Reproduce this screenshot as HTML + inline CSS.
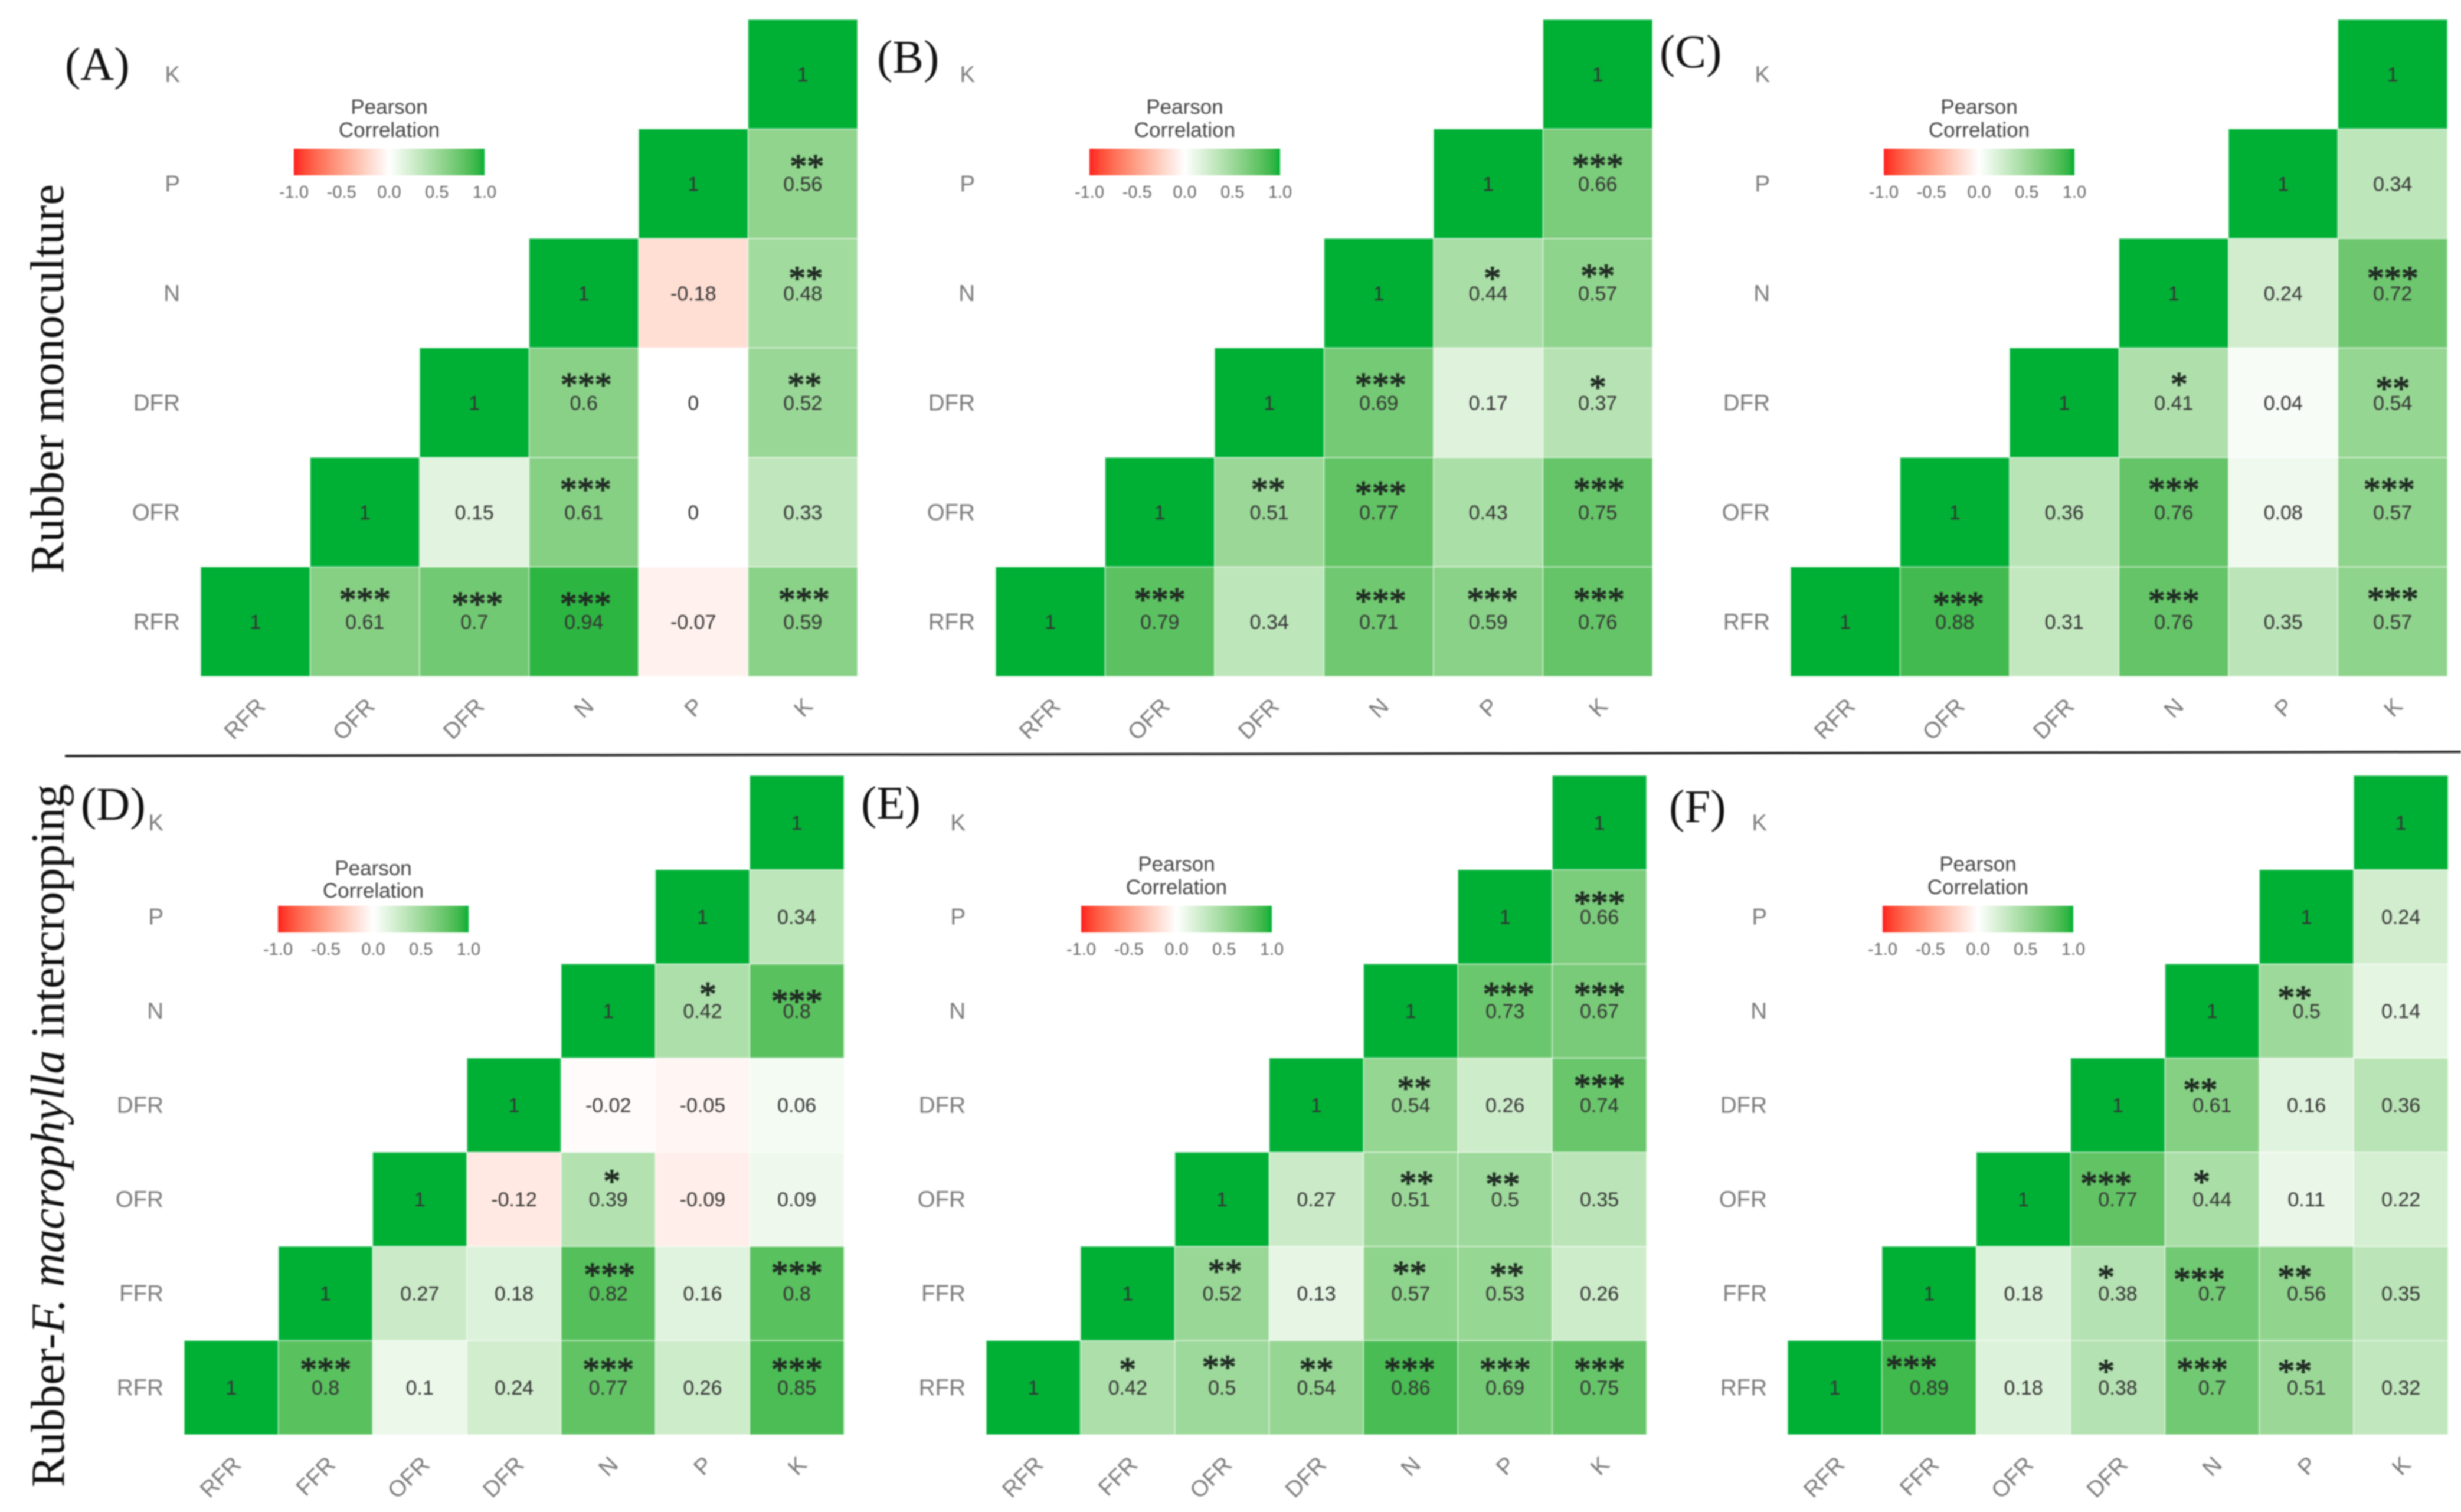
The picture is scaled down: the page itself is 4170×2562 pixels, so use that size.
<!DOCTYPE html>
<html lang="en">
<head>
<meta charset="utf-8">
<title>Pearson correlation heatmaps</title>
<style>
  html, body { margin: 0; padding: 0; background: #fff; }
  body { width: 4170px; height: 2562px; overflow: hidden; }
  svg { display: block; filter: blur(1.2px); }
  text { font-family: "Liberation Sans", sans-serif; }
  .serif { font-family: "Liberation Serif", serif; }
</style>
</head>
<body>
<svg id="chart" xmlns="http://www.w3.org/2000/svg" width="4170" height="2562" viewBox="0 0 4170 2562">
  <rect x="0" y="0" width="4170" height="2562" fill="#ffffff"/>
  <defs id="defs"></defs>
  <line x1="110" y1="1281" x2="4170" y2="1274" stroke="#222222" stroke-width="4"/>
  <text class="serif" transform="translate(107 972) rotate(-90)" font-size="80" fill="#111111">Rubber monoculture</text>
  <text class="serif" transform="translate(108 2520) rotate(-90)" font-size="80" fill="#111111">Rubber-<tspan font-style="italic">F. macrophylla</tspan> intercropping</text>
</svg>
<script>
// ---- Categories ----
const categoriesMono = ["RFR", "OFR", "DFR", "N", "P", "K"];
const categoriesInter = ["RFR", "FFR", "OFR", "DFR", "N", "P", "K"];
const legendTicks = [-1.0, -0.5, 0.0, 0.5, 1.0];

// ---- Correlation values: each row starts on the diagonal, bottom row first ----
const valuesA = [
  [1, 0.61, 0.7, 0.94, -0.07, 0.59],
  [1, 0.15, 0.61, 0, 0.33],
  [1, 0.6, 0, 0.52],
  [1, -0.18, 0.48],
  [1, 0.56],
  [1]
];
const valuesB = [
  [1, 0.79, 0.34, 0.71, 0.59, 0.76],
  [1, 0.51, 0.77, 0.43, 0.75],
  [1, 0.69, 0.17, 0.37],
  [1, 0.44, 0.57],
  [1, 0.66],
  [1]
];
const valuesC = [
  [1, 0.88, 0.31, 0.76, 0.35, 0.57],
  [1, 0.36, 0.76, 0.08, 0.57],
  [1, 0.41, 0.04, 0.54],
  [1, 0.24, 0.72],
  [1, 0.34],
  [1]
];
const valuesD = [
  [1, 0.8, 0.1, 0.24, 0.77, 0.26, 0.85],
  [1, 0.27, 0.18, 0.82, 0.16, 0.8],
  [1, -0.12, 0.39, -0.09, 0.09],
  [1, -0.02, -0.05, 0.06],
  [1, 0.42, 0.8],
  [1, 0.34],
  [1]
];
const valuesE = [
  [1, 0.42, 0.5, 0.54, 0.86, 0.69, 0.75],
  [1, 0.52, 0.13, 0.57, 0.53, 0.26],
  [1, 0.27, 0.51, 0.5, 0.35],
  [1, 0.54, 0.26, 0.74],
  [1, 0.73, 0.67],
  [1, 0.66],
  [1]
];
const valuesF = [
  [1, 0.89, 0.18, 0.38, 0.7, 0.51, 0.32],
  [1, 0.18, 0.38, 0.7, 0.56, 0.35],
  [1, 0.77, 0.44, 0.11, 0.22],
  [1, 0.61, 0.16, 0.36],
  [1, 0.5, 0.14],
  [1, 0.24],
  [1]
];

// ---- Significance star counts, same shape as the values ----
const starsA = [
  [0, 3, 3, 3, 0, 3],
  [0, 0, 3, 0, 0],
  [0, 3, 0, 2],
  [0, 0, 2],
  [0, 2],
  [0]
];
const starsB = [
  [0, 3, 0, 3, 3, 3],
  [0, 2, 3, 0, 3],
  [0, 3, 0, 1],
  [0, 1, 2],
  [0, 3],
  [0]
];
const starsC = [
  [0, 3, 0, 3, 0, 3],
  [0, 0, 3, 0, 3],
  [0, 1, 0, 2],
  [0, 0, 3],
  [0, 0],
  [0]
];
const starsD = [
  [0, 3, 0, 0, 3, 0, 3],
  [0, 0, 0, 3, 0, 3],
  [0, 0, 1, 0, 0],
  [0, 0, 0, 0],
  [0, 1, 3],
  [0, 0],
  [0]
];
const starsE = [
  [0, 1, 2, 2, 3, 3, 3],
  [0, 2, 0, 2, 2, 0],
  [0, 0, 2, 2, 0],
  [0, 2, 0, 3],
  [0, 3, 3],
  [0, 3],
  [0]
];
const starsF = [
  [0, 3, 0, 1, 3, 2, 0],
  [0, 0, 1, 3, 2, 0],
  [0, 3, 1, 0, 0],
  [0, 2, 0, 0],
  [0, 2, 0],
  [0, 0],
  [0]
];

// ---- Layout (separate from data) ----
// starNudge: hand placement of star annotations relative to a cell's centre ("row-col": [dx, dy])
const panelLayout = [
  { id: "a", label: "(A)", labelX: 110,  labelY: 135,  left: 340,  right: 1453, top: 33, bottom: 1146, cats: categoriesMono, values: valuesA, stars: starsA, barX: 498,  titleY: [193, 232],   barY: 252,  tickY: 335,  starDx: 2,   starDy: -38,
    starNudge: { "OFR-N": [3, -44], "RFR-OFR": [0, -43], "RFR-DFR": [5, -36], "RFR-N": [3, -36], "RFR-K": [2, -43], "P-K": [7, -35], "N-K": [5, -31], "DFR-K": [3, -36], "DFR-N": [4, -36] } },
  { id: "b", label: "(B)", labelX: 1486, labelY: 123,  left: 1687, right: 2800, top: 33, bottom: 1146, cats: categoriesMono, values: valuesB, stars: starsB, barX: 1846, titleY: [193, 232],   barY: 252,  tickY: 335,  starDx: 0,   starDy: -38,
    starNudge: { "RFR-OFR": [0, -43], "RFR-N": [3, -41], "RFR-P": [7, -43], "RFR-K": [2, -43], "OFR-DFR": [-2, -44], "OFR-N": [3, -38], "OFR-K": [2, -44], "DFR-N": [3, -36], "DFR-K": [0, -32], "N-P": [7, -31], "N-K": [0, -35], "P-K": [0, -36] } },
  { id: "c", label: "(C)", labelX: 2812, labelY: 114,  left: 3034, right: 4147, top: 33, bottom: 1146, cats: categoriesMono, values: valuesC, stars: starsC, barX: 3192, titleY: [193, 232],   barY: 252,  tickY: 335,  starDx: 0,   starDy: -38,
    starNudge: { "RFR-OFR": [6, -36], "RFR-N": [0, -41], "RFR-K": [0, -44], "OFR-N": [0, -44], "OFR-K": [-6, -44], "DFR-N": [9, -37], "DFR-K": [0, -30], "N-K": [0, -31] } },
  { id: "d", label: "(D)", labelX: 137,  labelY: 1389, left: 312,  right: 1430, top: 1314, bottom: 2431, cats: categoriesInter, values: valuesD, stars: starsD, barX: 471,  titleY: [1483, 1521], barY: 1535, tickY: 1618, starDx: 0,   starDy: -36,
    starNudge: { "FFR-N": [2, -37], "FFR-K": [0, -40], "OFR-N": [6, -36], "N-P": [9, -34], "N-K": [0, -22] } },
  { id: "e", label: "(E)", labelX: 1459, labelY: 1387, left: 1671, right: 2790, top: 1314, bottom: 2431, cats: categoriesInter, values: valuesE, stars: starsE, barX: 1832, titleY: [1476, 1515], barY: 1535, tickY: 1618, starDx: 0,   starDy: -36,
    starNudge: { "RFR-OFR": [-5, -40], "RFR-N": [-2, -36], "FFR-OFR": [5, -43], "FFR-N": [-2, -40], "FFR-P": [3, -37], "OFR-N": [10, -33], "OFR-P": [-4, -31], "DFR-N": [6, -34], "DFR-K": [0, -38], "N-P": [6, -34], "N-K": [0, -34], "P-K": [0, -29] } },
  { id: "f", label: "(F)", labelX: 2828, labelY: 1393, left: 3029, right: 4148, top: 1314, bottom: 2431, cats: categoriesInter, values: valuesF, stars: starsF, barX: 3190, titleY: [1476, 1515], barY: 1535, tickY: 1618, starDx: -20, starDy: -33,
    starNudge: { "RFR-FFR": [-30, -40], "FFR-N": [-22, -29], "RFR-N": [-17, -36], "OFR-DFR": [-20, -32], "DFR-N": [-20, -31], "N-P": [-20, -28], "OFR-N": [-18, -35] } }
];
const BAR_W = 323, BAR_H = 45;

// ---- Colour scale: white mid-point with Lab interpolation ----
const HIGH = [0, 176, 53], MID = [255, 255, 255], LOW = [255, 30, 30];
function toLab(c) {
  const l = c.map(function (v) { v /= 255; return v > 0.04045 ? Math.pow((v + 0.055) / 1.055, 2.4) : v / 12.92; });
  const X = (0.4124 * l[0] + 0.3576 * l[1] + 0.1805 * l[2]) / 0.95047;
  const Y = 0.2126 * l[0] + 0.7152 * l[1] + 0.0722 * l[2];
  const Z = (0.0193 * l[0] + 0.1192 * l[1] + 0.9505 * l[2]) / 1.08883;
  const f = function (t) { return t > 0.008856 ? Math.cbrt(t) : 7.787 * t + 16 / 116; };
  return [116 * f(Y) - 16, 500 * (f(X) - f(Y)), 200 * (f(Y) - f(Z))];
}
function fromLab(p) {
  const fy = (p[0] + 16) / 116, fx = fy + p[1] / 500, fz = fy - p[2] / 200;
  const g = function (t) { return t * t * t > 0.008856 ? t * t * t : (t - 16 / 116) / 7.787; };
  const X = g(fx) * 0.95047, Y = g(fy), Z = g(fz) * 1.08883;
  const lin = [3.2406 * X - 1.5372 * Y - 0.4986 * Z, -0.9689 * X + 1.8758 * Y + 0.0415 * Z, 0.0557 * X - 0.204 * Y + 1.057 * Z];
  return lin.map(function (v) {
    v = Math.max(0, Math.min(1, v));
    v = v > 0.0031308 ? 1.055 * Math.pow(v, 1 / 2.4) - 0.055 : 12.92 * v;
    return Math.round(v * 255);
  });
}
const labMid = toLab(MID), labHigh = toLab(HIGH), labLow = toLab(LOW);
function fillFor(v) {
  const end = v < 0 ? labLow : labHigh;
  const t = Math.min(1, Math.abs(v));
  const rgb = fromLab(labMid.map(function (m, i) { return m + (end[i] - m) * t; }));
  return "rgb(" + rgb.join(",") + ")";
}

// ---- Drawing ----
const NS = "http://www.w3.org/2000/svg";
const svg = document.getElementById("chart");
const defs = document.getElementById("defs");
function make(parent, tag, attrs, text) {
  const node = document.createElementNS(NS, tag);
  Object.keys(attrs).forEach(function (k) { node.setAttribute(k, attrs[k]); });
  if (text !== undefined) node.textContent = text;
  parent.appendChild(node);
  return node;
}

panelLayout.forEach(function (p) {
  const n = p.cats.length;
  const cw = (p.right - p.left) / n;
  const ch = (p.bottom - p.top) / n;
  const xScale = function (i) { return p.left + i * cw; };
  const yScale = function (i) { return p.bottom - (i + 1) * ch; };
  const legendScale = function (v) { return p.barX + (v + 1) / 2 * BAR_W; };

  const group = make(svg, "g", {});
  
  

  const tag = make(group, "text", { class: "serif", x: p.labelX, y: p.labelY, "font-size": 79, fill: "#111111" }, p.label);
  
  

  // cells first, so text always sits on top
  p.values.forEach(function (row, r) {
    row.forEach(function (v, k) {
      const c = r + k;
      const cell = make(group, "rect", {
        x: xScale(c), y: yScale(r), width: cw, height: ch,
        fill: fillFor(v), stroke: "#ffffff", "stroke-width": 2, "stroke-opacity": 0.45
      });
      
      
    });
  });

  p.values.forEach(function (row, r) {
    row.forEach(function (v, k) {
      const c = r + k;
      const cx = xScale(c) + cw / 2;
      const cy = yScale(r) + ch / 2;
      const label = make(group, "text", {
        x: cx, y: cy + 12, "font-size": 34, "text-anchor": "middle", fill: "#333333"
      }, String(v));
      
      
      const count = p.stars[r][k];
      if (count > 0) {
        const nudge = p.starNudge[p.cats[r] + "-" + p.cats[c]] || [p.starDx, p.starDy];
        const star = make(group, "text", {
          class: "serif", x: cx + nudge[0], y: cy + nudge[1] + 25, "font-size": 58,
          "text-anchor": "middle", fill: "#1f2a22", stroke: "#1f2a22", "stroke-width": 1.4
        }, "*".repeat(count));
        
        
      }
    });
  });

  // axes
  p.cats.forEach(function (name, i) {
    const yTick = make(group, "text", {
      x: p.left - 35, y: yScale(i) + ch / 2 + 13, "font-size": 38.5, "text-anchor": "end", fill: "#7a7a7a"
    }, name);
    
    
    const ax = xScale(i) + cw / 2 + 19;
    const ay = p.bottom + 53;
    const xTick = make(group, "text", {
      x: ax, y: ay, "font-size": 38.5, "text-anchor": "end", fill: "#7a7a7a",
      transform: "rotate(-45 " + ax + " " + ay + ")"
    }, name);
    
    
  });

  // legend
  const legend = make(group, "g", {});
  
  
  const barCx = p.barX + BAR_W / 2;
  ["Pearson", "Correlation"].forEach(function (word, i) {
    const t = make(legend, "text", { x: barCx, y: p.titleY[i], "font-size": 35, "text-anchor": "middle", fill: "#444444" }, word);
    
    
  });
  const gradId = "grad-" + p.id;
  const grad = make(defs, "linearGradient", { id: gradId, x1: 0, y1: 0, x2: 1, y2: 0 });
  for (let s = 0; s <= 40; s++) {
    make(grad, "stop", { offset: s / 40, "stop-color": fillFor(-1 + s / 20) });
  }
  const bar = make(legend, "rect", { x: p.barX, y: p.barY, width: BAR_W, height: BAR_H, fill: "url(#" + gradId + ")" });
  
  
  legendTicks.forEach(function (v) {
    const t = make(legend, "text", {
      x: legendScale(v), y: p.tickY, "font-size": 29, "text-anchor": "middle", fill: "#666666"
    }, v.toFixed(1));
    
    
  });
});
</script>
</body>
</html>
